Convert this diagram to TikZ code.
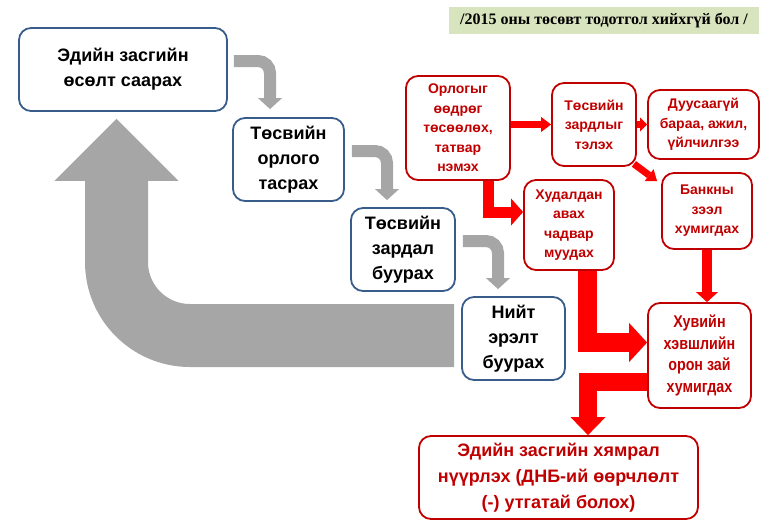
\documentclass[tikz,border=0pt]{standalone}
\usepackage{fontspec}
\setmainfont{Liberation Sans}
\newfontfamily\notefont{Liberation Serif}
\newfontfamily\narrowfont[FakeStretch=0.84]{Liberation Sans}
\usetikzlibrary{arrows.meta}
\definecolor{boxblue}{HTML}{385D8A}
\definecolor{boxred}{HTML}{C00000}
\definecolor{arrgray}{HTML}{A6A6A6}
\definecolor{arrred}{HTML}{FF0000}
\definecolor{notegreen}{HTML}{D7E4BD}
\begin{document}
\begin{tikzpicture}[x=1pt, y=-1pt]
        \tikzstyle{box}=[draw, rounded corners=12pt, line width=1.8pt, align=center, inner sep=0pt, font=\bfseries\fontsize{18}{25}\selectfont]
        \tikzstyle{bluebox}=[box, draw=boxblue, text=black]
        \tikzstyle{redbox}=[box, draw=boxred, text=boxred, font=\bfseries\fontsize{14}{19.5}\selectfont]
        \tikzstyle{grayarr}=[draw=arrgray, line width=12pt, rounded corners=12pt, -{Triangle[length=11pt, width=24pt, line width=0pt 0 0]}]
        \tikzstyle{redarr}=[draw=arrred, line join=miter]

        \useasboundingbox (0,0) rectangle (765,525);

        \node (note) [fill=notegreen, minimum width=310pt, minimum height=27pt, font=\notefont\bfseries\fontsize{16}{18}\selectfont] at (604,20.5) {/2015 оны төсөвт тодотгол хийхгүй бол /};

        % chain on the left
        \node (grow) [bluebox, minimum width=208pt, minimum height=83pt] at (123,69.5) {Эдийн засгийн\\өсөлт саарах};
        \node (revenue) [bluebox, minimum width=111pt, minimum height=83pt] at (288.5,159.5) {Төсвийн\\орлого\\тасрах};
        \node (spend) [bluebox, minimum width=104pt, minimum height=83pt] at (403,249.5) {Төсвийн\\зардал\\буурах};
        \node (demand) [bluebox, minimum width=103pt, minimum height=83pt] at (513.5,338.5) {Нийт\\эрэлт\\буурах};

        % red branch
        \node (optim) [redbox, minimum width=104pt, minimum height=104pt] at (458,128) {Орлогыг\\өөдрөг\\төсөөлөх,\\татвар\\нэмэх};
        \node (expand) [redbox, minimum width=84pt, minimum height=83pt] at (594,124.5) {Төсвийн\\зардлыг\\тэлэх};
        \node (unfinished) [redbox, minimum width=111pt, minimum height=69pt] at (703.5,124.5) {Дуусаагүй\\бараа, ажил,\\үйлчилгээ};
        \node (purchase) [redbox, minimum width=90pt, minimum height=90pt] at (569,225) {Худалдан\\авах\\чадвар\\муудах};
        \node (bank) [redbox, minimum width=90pt, minimum height=76pt] at (707,211) {Банкны\\зээл\\хумигдах};
        \node (private) [redbox, minimum width=103pt, minimum height=105pt, font=\narrowfont\bfseries\fontsize{17}{21.7}\selectfont] at (699.5,355.5) {Хувийн\\хэвшлийн\\орон зай\\хумигдах};
        \node (crisis) [redbox, minimum width=279pt, minimum height=83pt, font=\bfseries\fontsize{18}{26}\selectfont] at (558.5,477.5) {Эдийн засгийн хямрал\\нүүрлэх (ДНБ-ий өөрчлөлт\\(-) утгатай болох)};

        \draw[grayarr] ([xshift=6pt,yshift=8.5pt]grow.east) -| ([xshift=-18.5pt,yshift=8pt]revenue.north);
        \draw[grayarr] ([xshift=7pt,yshift=8.5pt]revenue.east) -| ([xshift=-16pt,yshift=7pt]spend.north);
        \draw[grayarr] ([xshift=7pt,yshift=8.5pt]spend.east) -| ([xshift=-15.5pt,yshift=7pt]demand.north);
        \draw[draw=arrgray, line width=63pt, rounded corners=73.5pt, -{Triangle[length=62pt, width=124pt, line width=0pt 0 0]}]
            ([xshift=-7pt,yshift=3pt]demand.west) -| ([xshift=-6.5pt,yshift=-7pt]grow.south);

        \draw[redarr, line width=7pt, -{Triangle[length=10pt, width=15pt, line width=0pt 0 0]}] (optim.east |- expand.west) -- (expand.west);
        \draw[redarr, line width=7pt, -{Triangle[length=7pt, width=14pt, line width=0pt 0 0]}] (expand.east) -- (unfinished.west);
        \draw[redarr, line width=7pt, -{Triangle[length=10pt, width=15pt, line width=0pt 0 0]}] ([xshift=-3pt,yshift=3pt]expand.south east) -- ([xshift=-4pt,yshift=-9pt]bank.north west);
        \draw[redarr, line width=11pt, -{Triangle[length=12pt, width=27pt, line width=0pt 0 0]}] ([xshift=30pt]optim.south) |- ([yshift=13pt]purchase.west);
        \draw[redarr, line width=19pt, -{Triangle[length=18pt, width=39pt, line width=0pt 0 0]}] ([xshift=18.5pt]purchase.south) |- ([yshift=13pt]private.west);
        \draw[redarr, line width=10pt, -{Triangle[length=10pt, width=22pt, line width=0pt 0 0]}] (bank.south) -- (bank.south |- private.north);
        \draw[redarr, line width=18pt, -{Triangle[length=18pt, width=35pt, line width=0pt 0 0]}] ([yshift=-26pt]private.west) -| ([xshift=29.5pt]crisis.north);
\end{tikzpicture}
\end{document}
